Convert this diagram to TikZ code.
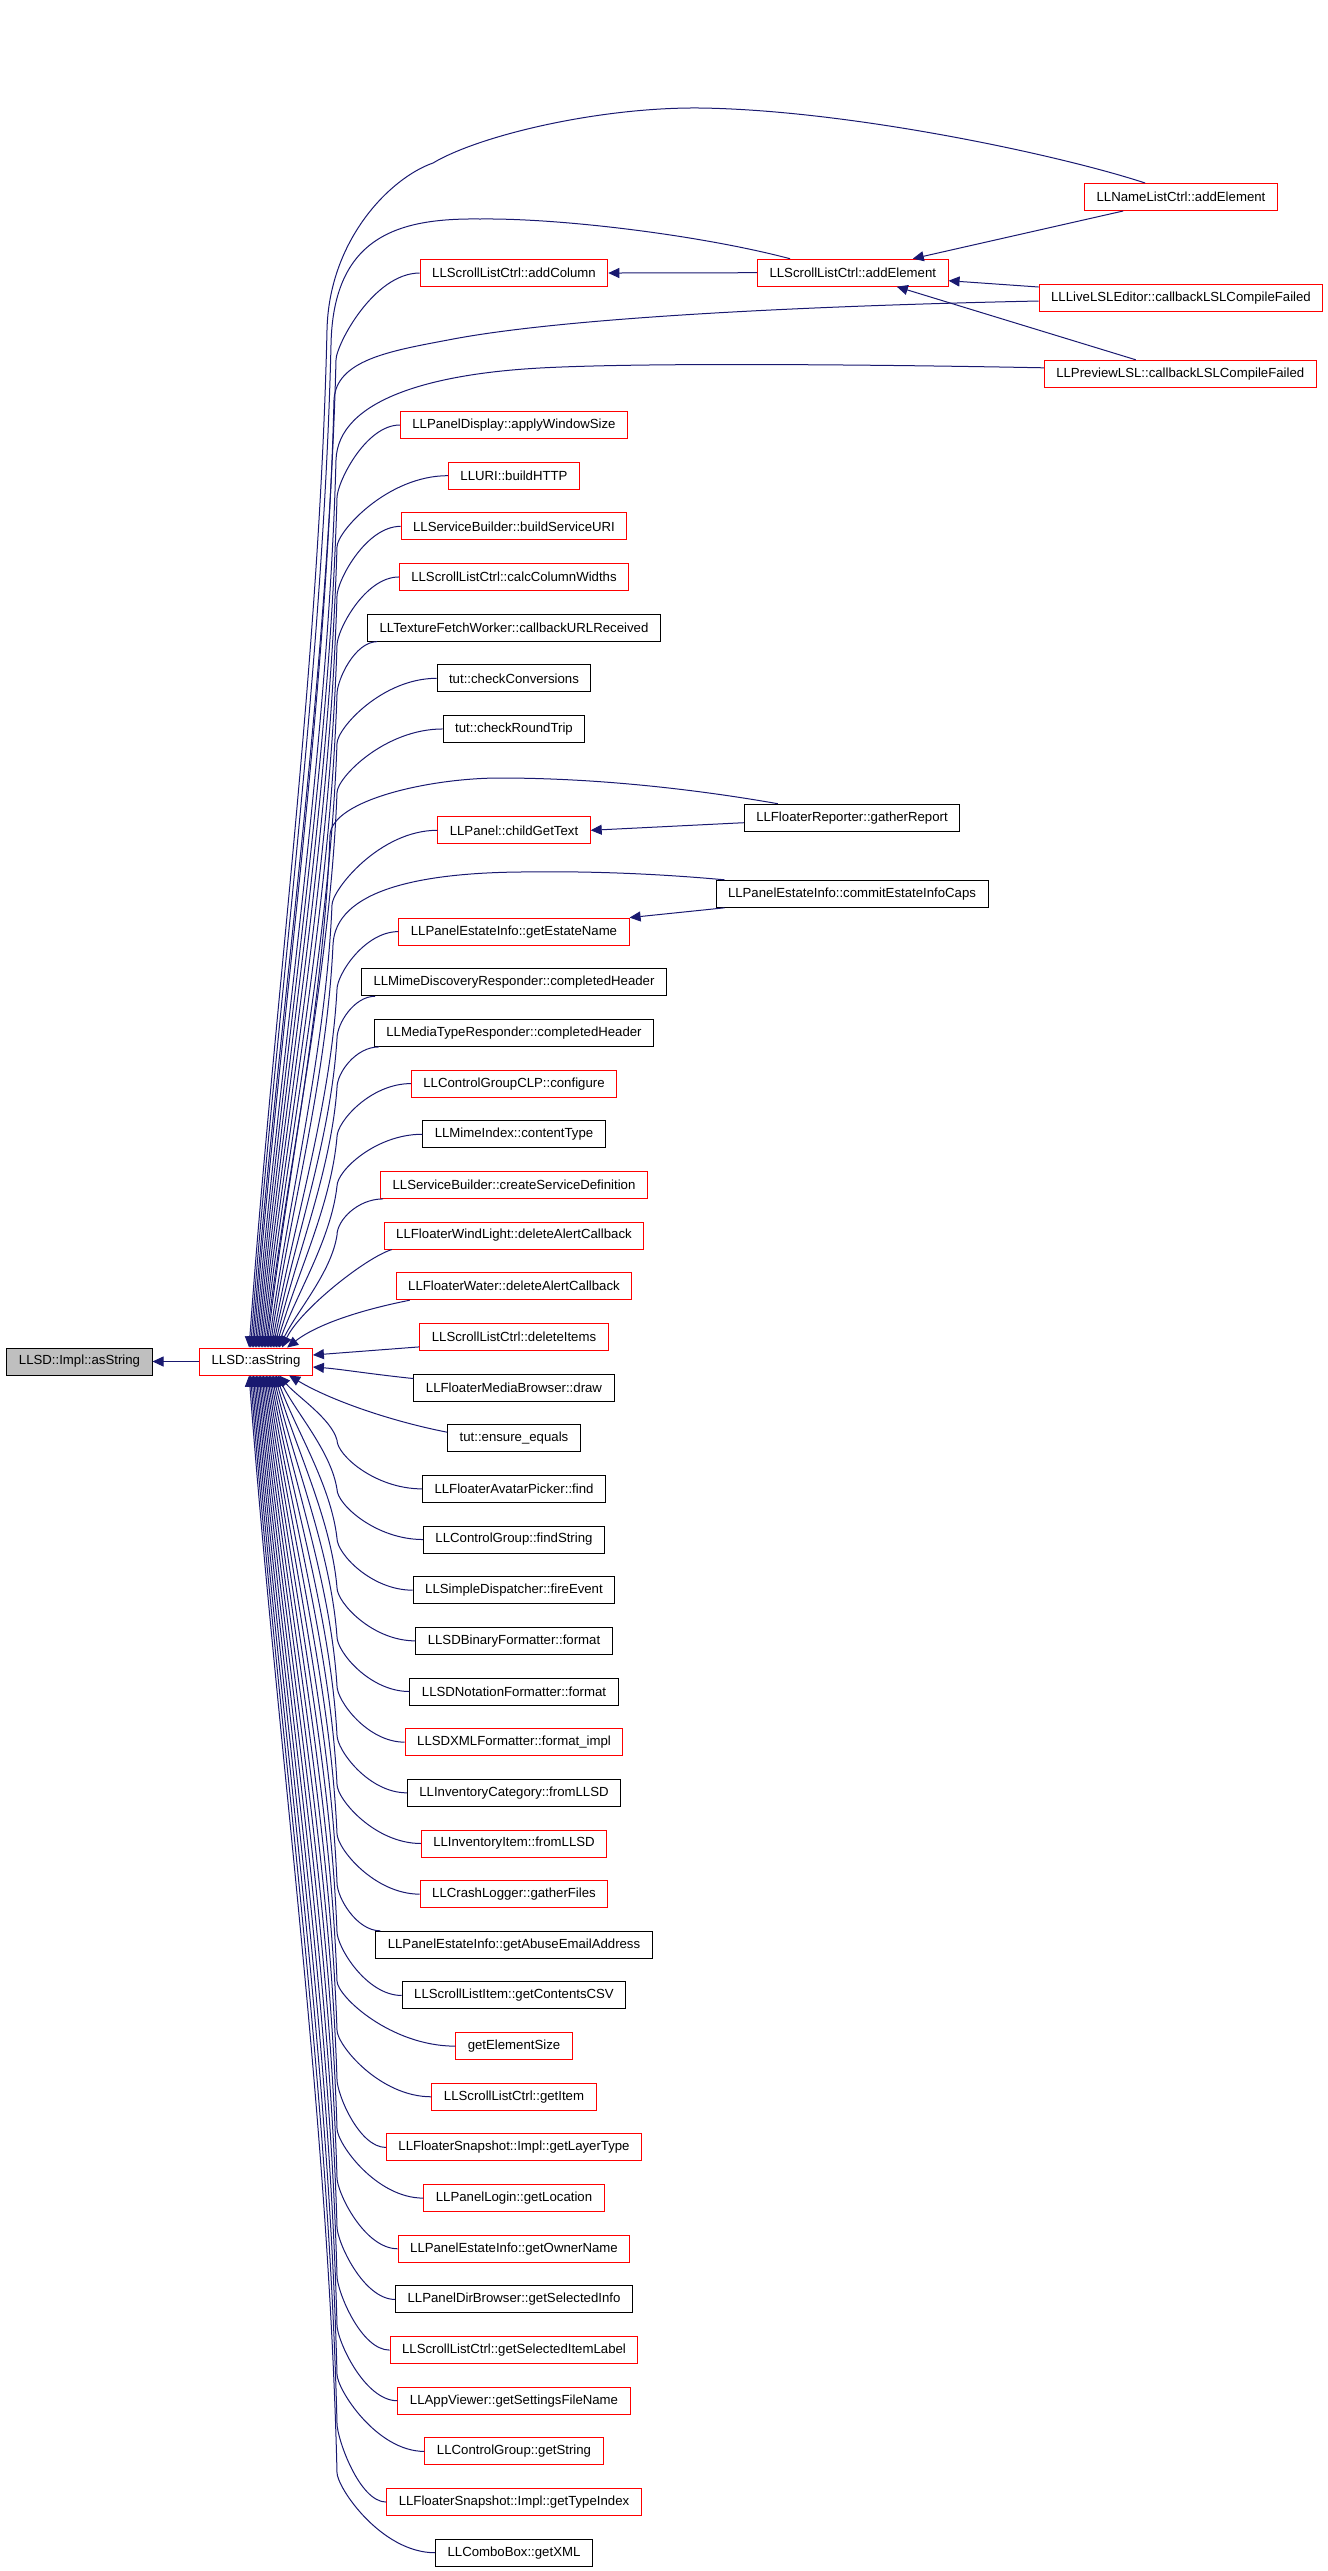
\documentclass[tikz,border=0pt]{standalone}
\usepackage{fontspec}
\setmainfont{Liberation Sans}
\usetikzlibrary{arrows.meta,calc}
\definecolor{edgeblue}{RGB}{25,25,112}
\definecolor{implgray}{RGB}{191,191,191}
\definecolor{boxred}{RGB}{255,0,0}
\tikzset{
 gbox/.style={draw, line width=0.5pt, minimum height=13.5pt, inner xsep=6pt, inner ysep=0pt,
   font=\fontsize{6.6}{8}\selectfont, text=black, fill=white},
 redbox/.style={gbox, draw=boxred},
 blackbox/.style={gbox, draw=black},
 conn/.style={draw=edgeblue, line width=0.5pt, -{Triangle[length=5.5pt,width=5pt]}},
}
\newcommand\cn[4]{\node[#4box] (#1) at (514,{425+50.66*(#2)}) {#3};}
\newcommand\tailcalcU[3]{%
  \pgfmathsetmacro\fca{#2+0.33*(1348-#2)}%
  \pgfmathsetmacro\fcb{1348-0.33*(1348-#2)}%
  \pgfmathsetmacro\fcy{#1-0.1*(#1-#3)}%
  \pgfmathsetmacro\fcx{#3+0.3*(#1-#3)}%
  \pgfmathsetmacro\fex{#3-200}}
\newcommand\tailcalcD[3]{%
  \pgfmathsetmacro\fca{#2-0.33*(#2-1375)}%
  \pgfmathsetmacro\fcb{1375+0.33*(#2-1375)}%
  \pgfmathsetmacro\fcy{#1-0.1*(#1-#3)}%
  \pgfmathsetmacro\fcx{#3+0.3*(#1-#3)}%
  \pgfmathsetmacro\fex{#3-200}}
\newcommand\fanUQ[4]{%
  \path (#1) coordinate (S);
  \coordinate (Q) at (#2,#3);
  \tailcalcU{#2}{#3}{#4}%
  \draw[conn] (S) .. controls ($(S)!0.55!(S-|Q)$) and ($(Q)+(0,-15)$) .. (Q)
    .. controls (\fcy,\fca) and (\fcx,\fcb) .. ($(asstr.north west)+(\fex,0)$);}
\newcommand\fanDQ[4]{%
  \path (#1) coordinate (S);
  \coordinate (Q) at (#2,#3);
  \tailcalcD{#2}{#3}{#4}%
  \draw[conn] (S) .. controls ($(S)!0.55!(S-|Q)$) and ($(Q)+(0,15)$) .. (Q)
    .. controls (\fcy,\fca) and (\fcx,\fcb) .. ($(asstr.south west)+(\fex,0)$);}
\newcommand\fanU[3]{%
  \pgfmathsetmacro\fqy{425+50.66*(#2)+45+1.5*(18.5-(#2))}%
  \fanUQ{#1}{337}{\fqy}{#3}}
\newcommand\fanD[3]{%
  \pgfmathsetmacro\fqy{425+50.66*(#2)-45-1.5*((#2)-18.5)}%
  \fanDQ{#1}{337}{\fqy}{#3}}
\begin{document}
\begin{tikzpicture}[x=0.5pt,y=-0.5pt]
\useasboundingbox (0,0) rectangle (1328,2571);
% left nodes
\node[blackbox, fill=implgray] (impl) at (79.5,1361.5) {LLSD::Impl::asString};
\node[redbox] (asstr) at (256,1361.5) {LLSD::asString};
% column 2
\cn{addcol}{-3}{LLScrollListCtrl::addColumn}{red}
\cn{r0}{0}{LLPanelDisplay::applyWindowSize}{red}
\cn{r1}{1}{LLURI::buildHTTP}{red}
\cn{r2}{2}{LLServiceBuilder::buildServiceURI}{red}
\cn{r3}{3}{LLScrollListCtrl::calcColumnWidths}{red}
\cn{r4}{4}{LLTextureFetchWorker::callbackURLReceived}{black}
\cn{r5}{5}{tut::checkConversions}{black}
\cn{r6}{6}{tut::checkRoundTrip}{black}
\cn{cgt}{8}{LLPanel::childGetText}{red}
\cn{gen}{10}{LLPanelEstateInfo::getEstateName}{red}
\cn{r11}{11}{LLMimeDiscoveryResponder::completedHeader}{black}
\cn{r12}{12}{LLMediaTypeResponder::completedHeader}{black}
\cn{r13}{13}{LLControlGroupCLP::configure}{red}
\cn{r14}{14}{LLMimeIndex::contentType}{black}
\cn{r15}{15}{LLServiceBuilder::createServiceDefinition}{red}
\cn{r16}{16}{LLFloaterWindLight::deleteAlertCallback}{red}
\cn{r17}{17}{LLFloaterWater::deleteAlertCallback}{red}
\cn{r18}{18}{LLScrollListCtrl::deleteItems}{red}
\cn{r19}{19}{LLFloaterMediaBrowser::draw}{black}
\cn{r20}{20}{tut::ensure\_equals}{black}
\cn{r21}{21}{LLFloaterAvatarPicker::find}{black}
\cn{r22}{22}{LLControlGroup::findString}{black}
\cn{r23}{23}{LLSimpleDispatcher::fireEvent}{black}
\cn{r24}{24}{LLSDBinaryFormatter::format}{black}
\cn{r25}{25}{LLSDNotationFormatter::format}{black}
\cn{r26}{26}{LLSDXMLFormatter::format\_impl}{red}
\cn{r27}{27}{LLInventoryCategory::fromLLSD}{black}
\cn{r28}{28}{LLInventoryItem::fromLLSD}{red}
\cn{r29}{29}{LLCrashLogger::gatherFiles}{red}
\cn{r30}{30}{LLPanelEstateInfo::getAbuseEmailAddress}{black}
\cn{r31}{31}{LLScrollListItem::getContentsCSV}{black}
\cn{r32}{32}{getElementSize}{red}
\cn{r33}{33}{LLScrollListCtrl::getItem}{red}
\cn{r34}{34}{LLFloaterSnapshot::Impl::getLayerType}{red}
\cn{r35}{35}{LLPanelLogin::getLocation}{red}
\cn{r36}{36}{LLPanelEstateInfo::getOwnerName}{red}
\cn{r37}{37}{LLPanelDirBrowser::getSelectedInfo}{black}
\cn{r38}{38}{LLScrollListCtrl::getSelectedItemLabel}{red}
\cn{r39}{39}{LLAppViewer::getSettingsFileName}{red}
\cn{r40}{40}{LLControlGroup::getString}{red}
\cn{r41}{41}{LLFloaterSnapshot::Impl::getTypeIndex}{red}
\cn{r42}{42}{LLComboBox::getXML}{black}
% column 3 and 4
\node[redbox] (sladd) at (852.8,272.7) {LLScrollListCtrl::addElement};
\node[blackbox] (gather) at (852,817.7) {LLFloaterReporter::gatherReport};
\node[blackbox] (commit) at (852,893.8) {LLPanelEstateInfo::commitEstateInfoCaps};
\node[redbox] (nl) at (1181,197) {LLNameListCtrl::addElement};
\node[redbox] (ll) at (1181,298) {LLLiveLSLEditor::callbackLSLCompileFailed};
\node[redbox] (pv) at (1180.3,373.8) {LLPreviewLSL::callbackLSLCompileFailed};
% simple edges
\draw[conn] (asstr.west) -- (impl.east);
\draw[conn] (sladd.west) -- (addcol.east);
\draw[conn] ($(nl.south west)+(39,0)$) -- ($(sladd.north)+(60,0)$);
\draw[conn] ($(ll.west)+(0,-11)$) -- ($(sladd.east)+(0,8)$);
\draw[conn] ($(pv.north west)+(92,0)$) -- ($(sladd.south)+(44,0)$);
\draw[conn] ($(gather.west)+(0,5)$) -- (cgt.east);
\draw[conn] ($(commit.south west)+(9,0)$) -- (gen.north east);
% long curves to LLSD::asString
\tailcalcU{327}{330}{250}
\draw[conn] ($(nl.north west)+(61,0)$) .. controls (1060,155) and (850,110) .. (700,108)
  .. controls (600,107) and (480,135) .. (433,163) .. controls (390,178) and (329,240) .. (327,330)
  .. controls (\fcy,\fca) and (\fcx,\fcb) .. ($(asstr.north west)+(\fex,0)$);
\tailcalcU{331}{345}{251.5}
\draw[conn] ($(sladd.north west)+(33,0)$) .. controls (700,235) and (560,218) .. (480,219)
  .. controls (400,218) and (333,235) .. (331,345)
  .. controls (\fcy,\fca) and (\fcx,\fcb) .. ($(asstr.north west)+(\fex,0)$);
\fanUQ{addcol.west}{336}{360}{253}
\tailcalcU{334}{400}{254.5}
\draw[conn] ($(ll.west)+(0,3)$) .. controls (800,306) and (560,318) .. (448,340)
  .. controls (390,351) and (336,360) .. (334,400)
  .. controls (\fcy,\fca) and (\fcx,\fcb) .. ($(asstr.north west)+(\fex,0)$);
\tailcalcU{336}{460}{256}
\draw[conn] ($(pv.west)+(0,-6)$) .. controls (900,365) and (650,362) .. (540,368)
  .. controls (430,374) and (338,400) .. (336,460)
  .. controls (\fcy,\fca) and (\fcx,\fcb) .. ($(asstr.north west)+(\fex,0)$);
\tailcalcU{330}{835}{268}
\draw[conn] ($(gather.north west)+(34,0)$) .. controls (700,790) and (600,778) .. (500,778)
  .. controls (430,778) and (332,800) .. (330,835)
  .. controls (\fcy,\fca) and (\fcx,\fcb) .. ($(asstr.north west)+(\fex,0)$);
\tailcalcU{333}{945}{271}
\draw[conn] ($(commit.north west)+(9,0)$) .. controls (650,873) and (580,871) .. (520,872)
  .. controls (420,873) and (335,890) .. (333,945)
  .. controls (\fcy,\fca) and (\fcx,\fcb) .. ($(asstr.north west)+(\fex,0)$);
% fan above
\fanU{r0.west}{0}{257.5}
\fanU{r1.west}{1}{259}
\fanU{r2.west}{2}{260.5}
\fanU{r3.west}{3}{262}
\fanU{$(r4.south west)+(10,0)$}{4}{263.5}
\fanU{r5.west}{5}{265}
\fanU{r6.west}{6}{266.5}
\fanUQ{cgt.west}{332}{905}{269.5}
\fanU{gen.west}{10}{272.5}
\fanU{$(r11.south west)+(14,0)$}{11}{274}
\fanU{$(r12.south west)+(5,0)$}{12}{275.5}
\fanU{r13.west}{13}{277}
\fanU{r14.west}{14}{278.5}
\fanU{$(r15.south west)+(3,0)$}{15}{280}
\draw[conn] ($(r16.south west)+(8,0)$) .. controls (365,1258) and (300,1310) .. ($(asstr.north west)+(83,0)$);
\draw[conn] ($(r17.south west)+(14,0)$) .. controls (370,1308) and (320,1322) .. ($(asstr.north west)+(88,0)$);
% near edges
\draw[conn] ($(r18.west)+(0,10)$) -- ($(asstr.east)+(0,-6.5)$);
\draw[conn] ($(r19.west)+(0,-9)$) .. controls (370,1374) and (340,1369) .. ($(asstr.east)+(0,5.5)$);
\draw[conn] ($(r20.west)+(0,-6)$) .. controls (390,1421) and (330,1400) .. ($(asstr.south west)+(90,0)$);
% fan below
\foreach \r in {21,...,29,31,32,...,42}{
  \pgfmathsetmacro\ax{280-(\r-21)*30/21}
  \fanD{r\r.west}{\r}{\ax}
}
\fanD{$(r30.north west)+(5,0)$}{30}{267.14}
\end{tikzpicture}
\end{document}
